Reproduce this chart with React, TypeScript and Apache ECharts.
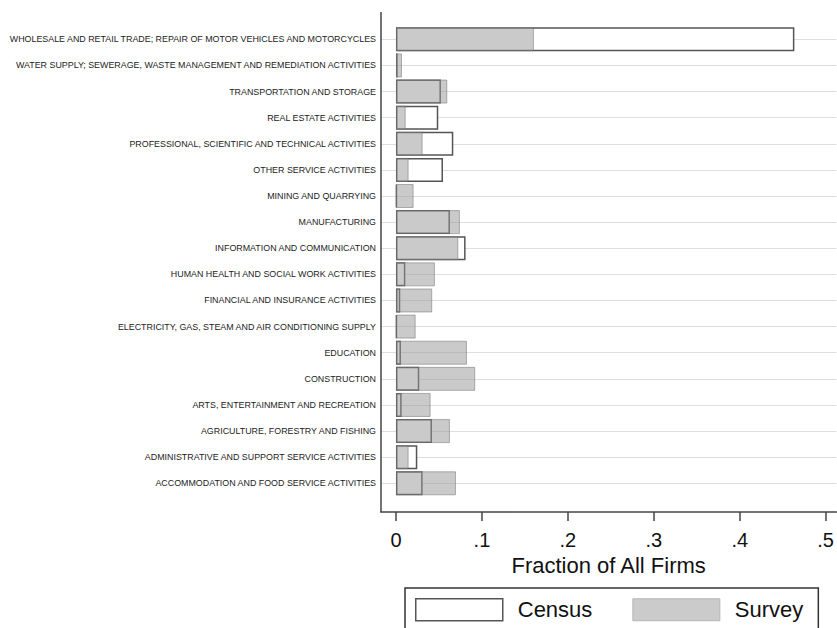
import React, { useEffect, useRef } from "react";
import * as echarts from "echarts";

// bottom-to-top order (alphabetical)
const categories = [
  "ACCOMMODATION AND FOOD SERVICE ACTIVITIES",
  "ADMINISTRATIVE AND SUPPORT SERVICE ACTIVITIES",
  "AGRICULTURE, FORESTRY AND FISHING",
  "ARTS, ENTERTAINMENT AND RECREATION",
  "CONSTRUCTION",
  "EDUCATION",
  "ELECTRICITY, GAS, STEAM AND AIR CONDITIONING SUPPLY",
  "FINANCIAL AND INSURANCE ACTIVITIES",
  "HUMAN HEALTH AND SOCIAL WORK ACTIVITIES",
  "INFORMATION AND COMMUNICATION",
  "MANUFACTURING",
  "MINING AND QUARRYING",
  "OTHER SERVICE ACTIVITIES",
  "PROFESSIONAL, SCIENTIFIC AND TECHNICAL ACTIVITIES",
  "REAL ESTATE ACTIVITIES",
  "TRANSPORTATION AND STORAGE",
  "WATER SUPPLY; SEWERAGE, WASTE MANAGEMENT AND REMEDIATION ACTIVITIES",
  "WHOLESALE AND RETAIL TRADE; REPAIR OF MOTOR VEHICLES AND MOTORCYCLES",
];

const census = [
  0.031, 0.0248, 0.0419, 0.0066, 0.0271, 0.0058, 0.001, 0.005, 0.0109, 0.081,
  0.0628, 0.001, 0.0547, 0.0667, 0.0492, 0.0523, 0.002, 0.4636,
];

const survey = [
  0.0698, 0.0147, 0.0628, 0.0403, 0.0922, 0.0826, 0.0229, 0.0422, 0.0453,
  0.0725, 0.0744, 0.0205, 0.0147, 0.031, 0.0113, 0.0597, 0.007, 0.1605,
];

const xTicks = [0, 0.1, 0.2, 0.3, 0.4, 0.5];

const FONT = "'Liberation Sans', Arial, sans-serif";

export default function App() {
  const ref = useRef<HTMLDivElement>(null);
  useEffect(() => {
    if (!ref.current) return;
    const chart = echarts.init(ref.current, null, { renderer: "svg" });
    const censusStyle = { color: "#ffffff", borderColor: "#555555", borderWidth: 1.5 };
    const surveyStyle = {
      color: "rgba(150,150,150,0.5)",
      borderColor: "rgba(110,110,110,0.5)",
      borderWidth: 1,
    };
    chart.setOption({
      animation: false,
      backgroundColor: "#ffffff",
      textStyle: { fontFamily: FONT },
      grid: { left: 381, right: 0, top: 39.3, bottom: 628 - 483.3, containLabel: false },
      xAxis: {
        type: "value",
        min: -0.01743,
        max: 0.5124,
        offset: 28.7,
        axisLine: { show: true, lineStyle: { color: "#444", width: 1.5 } },
        axisTick: {
          show: true,
          length: 9,
          customValues: xTicks,
          lineStyle: { color: "#444", width: 1.5 },
        },
        axisLabel: {
          customValues: xTicks,
          fontSize: 20,
          color: "#111",
          margin: 18,
          fontFamily: FONT,
          formatter: (v: number) => (v === 0 ? "0" : String(v).replace(/^0\./, ".")),
        },
        splitLine: { show: false },
        name: "Fraction of All Firms",
        nameLocation: "middle",
        nameGap: 35,
        nameTextStyle: { fontSize: 22, color: "#111", fontFamily: FONT },
      },
      yAxis: {
        type: "category",
        data: categories,
        boundaryGap: false,
        axisLine: { show: false },
        axisTick: { show: false },
        axisLabel: { fontSize: 8.9, color: "#222", margin: 5, fontFamily: FONT },
        splitLine: { show: true, lineStyle: { color: "#dedede", width: 1.2 } },
      },
      legend: {
        left: 405,
        top: 588,
        orient: "horizontal",
        padding: [10, 15, 20, 10],
        borderColor: "#333",
        borderWidth: 1.5,
        itemWidth: 87,
        itemHeight: 22,
        itemGap: 40,
        textStyle: { fontSize: 22, color: "#111", padding: [0, 0, 0, 10], fontFamily: FONT },
        data: [
          { name: "Census", icon: "rect", itemStyle: censusStyle },
          { name: "Survey", icon: "rect", itemStyle: { color: "#cbcbcb", borderColor: "#b6b6b6", borderWidth: 1 } },
        ],
      },
      graphic: [
        {
          type: "line",
          shape: { x1: 381, y1: 12, x2: 381, y2: 512.5 },
          style: { stroke: "#444", lineWidth: 1.5 },
          z: 10,
        },
      ],
      series: [
        {
          name: "Census",
          type: "bar",
          data: census,
          barWidth: 24,
          barGap: "-100%",
          itemStyle: censusStyle,
        },
        {
          name: "Survey",
          type: "bar",
          data: survey,
          barWidth: 24,
          barGap: "-100%",
          itemStyle: surveyStyle,
        },
      ],
    });
    return () => chart.dispose();
  }, []);
  return (
    <div
      ref={ref}
      style={{ position: "absolute", left: 0, top: 0, width: 837, height: 628 }}
    />
  );
}
